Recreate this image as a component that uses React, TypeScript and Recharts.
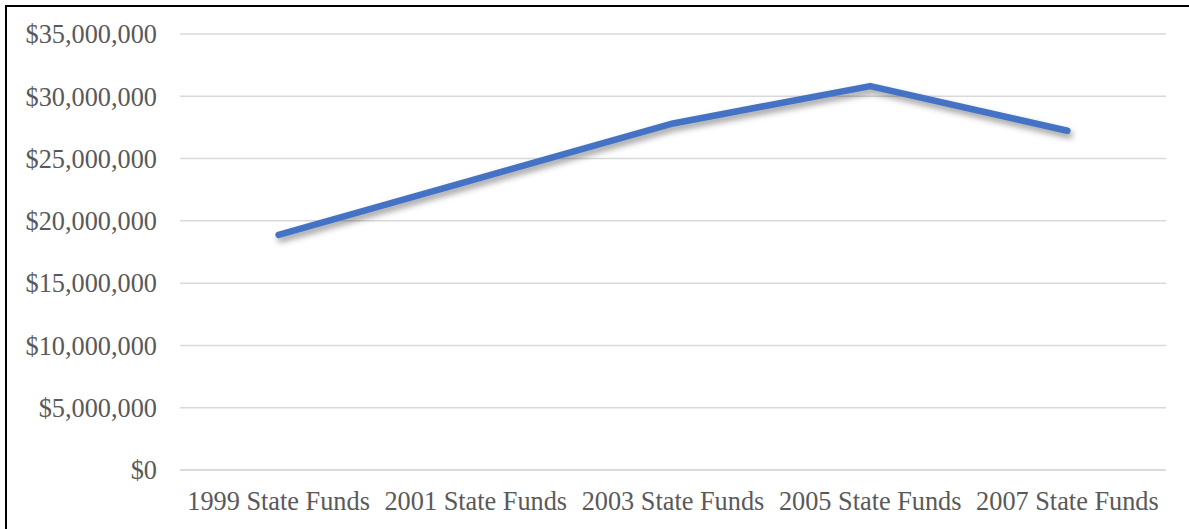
import { LineChart, Line, XAxis, YAxis, CartesianGrid } from 'recharts';

const categories = ['1999 State Funds', '2001 State Funds', '2003 State Funds', '2005 State Funds', '2007 State Funds'];
const stateFunds = [18870000, 23350000, 27820000, 30820000, 27230000];
const yTicks = [0, 5000000, 10000000, 15000000, 20000000, 25000000, 30000000, 35000000];

const data = categories.map((name, i) => ({ name, value: stateFunds[i] }));

const money = (v: number) => '$' + v.toLocaleString('en-US');

const tickStyle = { fill: '#595959', fontSize: 26.3, fontFamily: '"Liberation Serif", "Times New Roman", serif' };

export default function App() {
    return (
        <div style={{ position: 'absolute', left: 0, top: 0, width: 1189, height: 529, background: '#fff', overflow: 'hidden' }}>
            <style>{`.funds-line .recharts-line-curve { filter: drop-shadow(2px 4px 3px rgba(0,0,0,0.4)); }`}</style>
            {/* frame: only top and left edges show in the picture */}
            <div style={{ position: 'absolute', left: 5, top: 5, width: 1200, height: 540, borderTop: '2px solid #000', borderLeft: '2px solid #000' }} />
            <div style={{ position: 'absolute', left: 0, top: 0 }}>
                <LineChart width={1189} height={529} data={data} margin={{ top: 34, right: 23, bottom: 0, left: 0 }}>
                    <CartesianGrid vertical={false} stroke="#d9d9d9" strokeWidth={1.5} />
                    <XAxis
                        dataKey="name"
                        height={59}
                        padding={{ left: 98.6, right: 98.6 }}
                        axisLine={{ stroke: '#d9d9d9', strokeWidth: 1.5 }}
                        tickLine={false}
                        tickSize={0}
                        tickMargin={21}
                        tick={tickStyle}
                        interval={0}
                    />
                    <YAxis
                        width={180}
                        domain={[0, 35000000]}
                        ticks={yTicks}
                        tickFormatter={money}
                        axisLine={false}
                        tickLine={false}
                        tickSize={0}
                        tickMargin={23}
                        tick={tickStyle}
                        interval={0}
                    />
                    <Line
                        className="funds-line"
                        type="linear"
                        dataKey="value"
                        stroke="#4472C4"
                        strokeWidth={6.5}
                        strokeLinecap="round"
                        strokeLinejoin="round"
                        dot={false}
                        activeDot={false}
                        isAnimationActive={false}
                    />
                </LineChart>
            </div>
        </div>
    );
}
